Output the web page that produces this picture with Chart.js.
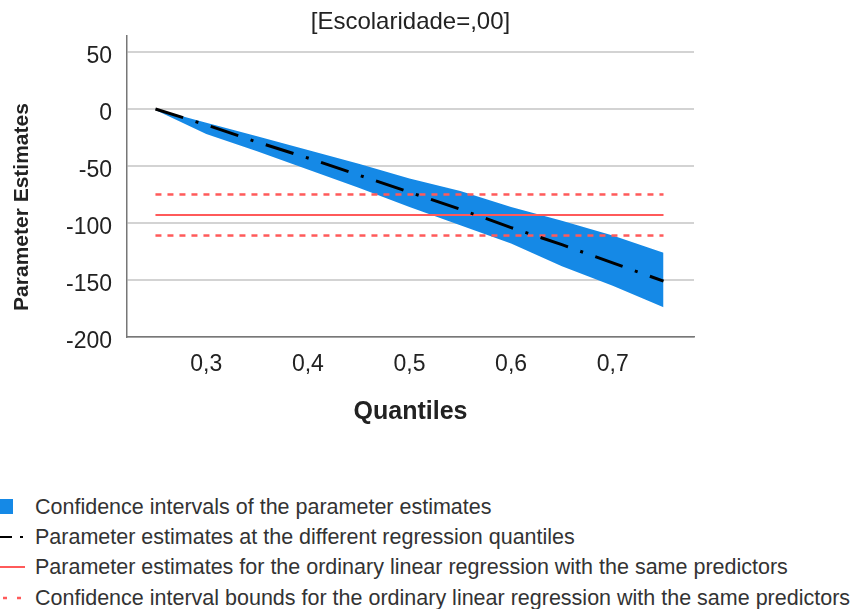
<!DOCTYPE html>
<html>
<head>
<meta charset="utf-8">
<script src="https://cdn.jsdelivr.net/npm/chart.js@4"></script>
<style>
    html, body { margin: 0; padding: 0; background: #fff; }
    #wrap { position: relative; width: 856px; height: 609px; overflow: hidden; }
    #chartBox { position: absolute; left: 0; top: 0; width: 856px; height: 440px; }
    .row { position: absolute; left: 0; width: 856px; height: 24px; line-height: 24px;
           font: 21.5px "Liberation Sans", Arial, sans-serif; color: #333; }
    .row svg { position: absolute; left: 0; top: 0; }
    .row span { position: absolute; left: 35px; top: 0; white-space: nowrap; }
</style>
</head>
<body>
<div id="wrap">
    <div id="chartBox"><canvas id="chart"></canvas></div>
    <div id="legend"></div>
</div>
<script>
const quantiles = [0.25, 0.30, 0.35, 0.40, 0.45, 0.50, 0.55, 0.60, 0.65, 0.70, 0.75];
const estimates = [0, -14, -29, -43, -58, -73, -88, -104, -119, -135, -151];
const ciUpper = [0, -12, -24, -36, -48, -61, -72, -86, -98, -111, -126];
const ciLower = [-1, -22, -37, -53, -69, -86, -102, -118, -138, -155, -174];
const olsEstimate = -93;
const olsUpper = -75;
const olsLower = -111;
const xTicks = [0.3, 0.4, 0.5, 0.6, 0.7];
const yTicks = [-200, -150, -100, -50, 0, 50];

const legendLabels = [
    "Confidence intervals of the parameter estimates",
    "Parameter estimates at the different regression quantiles",
    "Parameter estimates for the ordinary linear regression with the same predictors",
    "Confidence interval bounds for the ordinary linear regression with the same predictors",
];

const BLUE = "#1589e6";
const RED = "#ff5a5a";
const FONT = '"Liberation Sans", Arial, sans-serif';

function points(values) {
    return quantiles.map((q, i) => ({ x: q, y: values[i] }));
}

function flatLine(value) {
    return [
        { x: quantiles[0], y: value },
        { x: quantiles[quantiles.length - 1], y: value },
    ];
}

const yTitlePlugin = {
    id: "yTitle",
    afterDraw(chart) {
        const ctx = chart.ctx;
        ctx.save();
        ctx.translate(22, 207);
        ctx.rotate(-Math.PI / 2);
        ctx.font = "bold 21px " + FONT;
        ctx.fillStyle = "#222";
        ctx.textAlign = "center";
        ctx.textBaseline = "middle";
        ctx.fillText("Parameter Estimates", 0, 0);
        ctx.restore();
    },
};

const line = { pointRadius: 0, tension: 0, fill: false };

new Chart(document.getElementById("chart"), {
    type: "line",
    data: {
        datasets: [
            { ...line, data: points(estimates), borderColor: "#000", borderWidth: 3, borderDash: [29, 13, 3, 13] },
            { ...line, data: flatLine(olsEstimate), borderColor: RED, borderWidth: 2 },
            { ...line, data: flatLine(olsUpper), borderColor: RED, borderWidth: 2.5, borderDash: [6, 6] },
            { ...line, data: flatLine(olsLower), borderColor: RED, borderWidth: 2.5, borderDash: [6, 6] },
            { ...line, data: points(ciUpper), borderWidth: 0, backgroundColor: BLUE, fill: "+1" },
            { ...line, data: points(ciLower), borderWidth: 0 },
        ],
    },
    options: {
        responsive: true,
        maintainAspectRatio: false,
        animation: false,
        layout: { padding: { right: 162 } },
        plugins: {
            legend: { display: false },
            tooltip: { enabled: false },
            title: {
                display: true,
                text: "[Escolaridade=,00]",
                fullSize: false,
                color: "#222",
                font: { family: FONT, size: 24, weight: "normal", lineHeight: 1 },
                padding: { top: 10, bottom: 2 },
            },
        },
        scales: {
            x: {
                type: "linear",
                min: 0.222,
                max: 0.78,
                grid: { display: false, drawTicks: false },
                border: { display: true, color: "#777", width: 1.5 },
                ticks: {
                    color: "#222",
                    font: { family: FONT, size: 23 },
                    padding: 14,
                    callback: (v) => v.toFixed(1).replace(".", ","),
                },
                afterBuildTicks: (scale) => {
                    scale.ticks = xTicks.map((v) => ({ value: v }));
                },
                afterFit: (scale) => {
                    scale.height = 103;
                },
                title: {
                    display: true,
                    text: "Quantiles",
                    color: "#222",
                    font: { family: FONT, size: 25, weight: "bold" },
                    padding: { top: 0, bottom: 13 },
                },
            },
            y: {
                min: -200,
                max: 64,
                grid: { color: "#d3d3d3", lineWidth: 2, drawTicks: false },
                border: { display: true, color: "#777", width: 1.5 },
                ticks: {
                    color: "#222",
                    font: { family: FONT, size: 23 },
                    padding: 15,
                    labelOffset: 5,
                },
                afterBuildTicks: (scale) => {
                    scale.ticks = yTicks.map((v) => ({ value: v }));
                },
                afterFit: (scale) => {
                    scale.width = 127;
                },
            },
        },
    },
    plugins: [yTitlePlugin],
});

// legend below the chart, symbols drawn as small svg
const symbols = [
    '<rect x="0" y="4" width="13" height="15" fill="' + BLUE + '"/>',
    '<line x1="0" y1="12" x2="12" y2="12" stroke="#000" stroke-width="2"/>' +
        '<line x1="20" y1="12" x2="23" y2="12" stroke="#000" stroke-width="2"/>',
    '<line x1="0" y1="12" x2="25" y2="12" stroke="' + RED + '" stroke-width="2"/>',
    '<line x1="3" y1="12" x2="7" y2="12" stroke="' + RED + '" stroke-width="2.5"/>' +
        '<line x1="17" y1="12" x2="21" y2="12" stroke="' + RED + '" stroke-width="2.5"/>',
];
const rowCenters = [507, 537, 567, 598];
const legend = document.getElementById("legend");
legendLabels.forEach((label, i) => {
    const row = document.createElement("div");
    row.className = "row";
    row.style.top = rowCenters[i] - 12 + "px";
    row.innerHTML = '<svg width="30" height="24">' + symbols[i] + "</svg><span></span>";
    row.querySelector("span").textContent = label;
    legend.appendChild(row);
});
</script>
</body>
</html>
